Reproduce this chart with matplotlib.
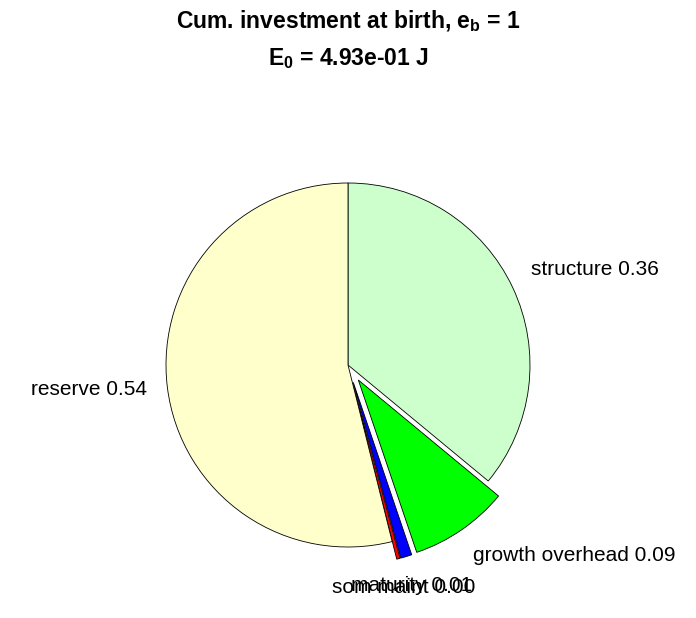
#!/usr/bin/env python3
import numpy as np
import matplotlib
matplotlib.use("Agg")
import matplotlib.pyplot as plt

plt.rcParams['font.family'] = ['Liberation Sans', 'DejaVu Sans']
plt.rcParams['mathtext.fontset'] = 'custom'
plt.rcParams['mathtext.rm'] = 'Liberation Sans:bold'
plt.rcParams['mathtext.bf'] = 'Liberation Sans:bold'

# data (fractions of cumulative investment at birth)
names = ["structure", "growth overhead", "maturity", "som maint", "reserve"]
fracs = [0.360, 0.088, 0.010, 0.003, 0.539]
colors = ["#ccffcc", "#00ff00", "#0000ff", "#ff0000", "#ffffcc"]
explode = [0, 0.1, 0.1, 0.1, 0]

labels = ["%s %.2f" % (n, f) for n, f in zip(names, fracs)]

W, H = 696, 618
fig = plt.figure(figsize=(W / 100, H / 100), dpi=100)

# pie: centre at (348, 365) px from top-left, radius 182 px
R = 182.0
half = 1.4
side = 2 * half * R
cx, cy = 348, H - 365
ax = fig.add_axes([(cx - side / 2) / W, (cy - side / 2) / H, side / W, side / H])

wedges, texts = ax.pie(fracs, labels=labels, colors=colors, explode=explode,
                       startangle=90, counterclock=False, labeldistance=1.11,
                       wedgeprops=dict(edgecolor="black", linewidth=0.6),
                       textprops=dict(fontsize=15))

# MATLAB-like label alignment
for w, t in zip(wedges, texts):
    ang = np.deg2rad((w.theta1 + w.theta2) / 2)
    c, s = np.cos(ang), np.sin(ang)
    if abs(c) < 0.4:
        t.set_ha("center")
    else:
        t.set_ha("left" if c > 0 else "right")
    if abs(s) < 0.3:
        t.set_va("center")
    else:
        t.set_va("bottom" if s > 0 else "top")

ax.set_xlim(-half, half)
ax.set_ylim(-half, half)
ax.set_aspect("equal")
ax.axis("off")

fig.text(0.5, 1 - 21 / H, r"Cum. investment at birth, e$_\mathbf{b}$ = 1",
         ha="center", va="center", fontsize=16.5, fontweight="bold")
fig.text(0.5, 1 - 59 / H, r"E$_\mathbf{0}$ = 4.93e-01 J",
         ha="center", va="center", fontsize=16.5, fontweight="bold")

fig.savefig("out.png", dpi=100, facecolor="white")
